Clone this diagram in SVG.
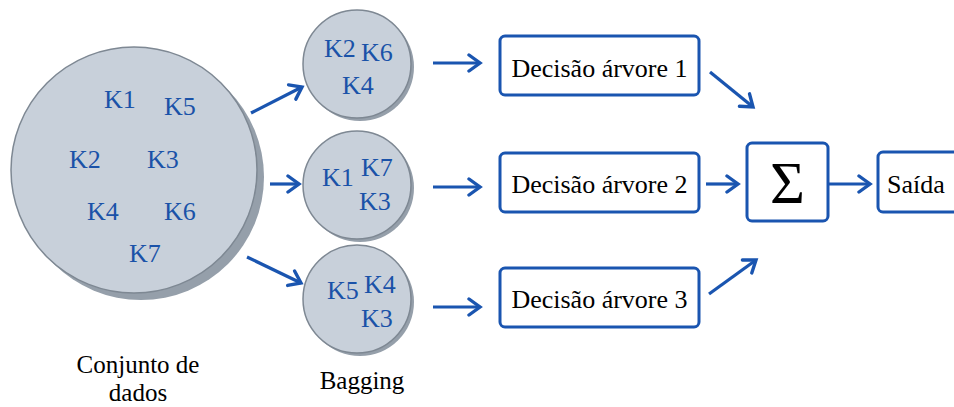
<svg xmlns="http://www.w3.org/2000/svg" width="954" height="407" viewBox="0 0 954 407">
  <style>
    .disk { fill: #c8d0da; stroke: #7e8893; stroke-width: 1.5; }
    .disk-shadow { fill: #959faa; }
    .key { fill: #1a52a8; }
    .box { fill: #ffffff; stroke: #1a55b0; stroke-width: 3; }
    .label { fill: #000000; }
    .edge { stroke: #1a55b0; stroke-width: 3.2; fill: none; marker-end: url(#arrow); }
  </style>
  <defs>
    <marker id="arrow" markerUnits="userSpaceOnUse" markerWidth="20" markerHeight="20" viewBox="-14 -10 16 20" refX="0" refY="0" orient="auto">
      <path d="M-11,-8 L0,0 L-11,8" fill="none" stroke="#1a55b0" stroke-width="3.4" stroke-linecap="round" stroke-linejoin="miter"/>
    </marker>
  </defs>

  <g font-family="'Liberation Serif', 'Times New Roman', serif" font-size="26">
    <!-- full data set -->
    <g id="dataset">
      <circle class="disk-shadow" cx="141" cy="177" r="123"/>
      <circle class="disk" cx="134" cy="170" r="123"/>
      <text class="key" x="104" y="108">K1</text>
      <text class="key" x="164" y="115">K5</text>
      <text class="key" x="69" y="168">K2</text>
      <text class="key" x="147" y="168">K3</text>
      <text class="key" x="87" y="220">K4</text>
      <text class="key" x="164" y="220">K6</text>
      <text class="key" x="129" y="262">K7</text>
    </g>

    <!-- bootstrap samples -->
    <g id="sample1">
      <circle class="disk-shadow" cx="360" cy="67" r="54"/>
      <circle class="disk" cx="357" cy="64" r="54"/>
      <text class="key" x="324" y="57">K2</text>
      <text class="key" x="361" y="61">K6</text>
      <text class="key" x="342" y="94">K4</text>
    </g>
    <g id="sample2">
      <circle class="disk-shadow" cx="360" cy="188" r="54"/>
      <circle class="disk" cx="357" cy="185" r="54"/>
      <text class="key" x="322" y="186">K1</text>
      <text class="key" x="361" y="176">K7</text>
      <text class="key" x="359" y="210">K3</text>
    </g>
    <g id="sample3">
      <circle class="disk-shadow" cx="360" cy="302" r="54"/>
      <circle class="disk" cx="357" cy="299" r="54"/>
      <text class="key" x="327" y="299">K5</text>
      <text class="key" x="364" y="293">K4</text>
      <text class="key" x="361" y="327">K3</text>
    </g>

    <!-- decision trees -->
    <g id="tree1">
      <rect class="box" x="500" y="36" width="199" height="59" rx="5"/>
      <text class="label" x="599.5" y="77" text-anchor="middle">Decisão árvore 1</text>
    </g>
    <g id="tree2">
      <rect class="box" x="500" y="153" width="199" height="59" rx="5"/>
      <text class="label" x="599.5" y="193" text-anchor="middle">Decisão árvore 2</text>
    </g>
    <g id="tree3">
      <rect class="box" x="500" y="268" width="199" height="59" rx="5"/>
      <text class="label" x="599.5" y="308" text-anchor="middle">Decisão árvore 3</text>
    </g>

    <!-- aggregation -->
    <g id="sum">
      <rect class="box" x="747" y="143" width="81" height="78" rx="5"/>
      <text class="label" x="787.5" y="203" text-anchor="middle" font-size="60">Σ</text>
    </g>
    <g id="output">
      <rect class="box" x="878" y="152" width="90" height="60" rx="5"/>
      <text class="label" x="887" y="193">Saída</text>
    </g>

    <!-- captions -->
    <g id="captions" font-size="25">
      <text class="label" x="138" y="373" text-anchor="middle">Conjunto de</text>
      <text class="label" x="138" y="401" text-anchor="middle">dados</text>
      <text class="label" x="362" y="389" text-anchor="middle">Bagging</text>
    </g>
  </g>

  <!-- connectors -->
  <g id="connectors">
    <line class="edge" x1="251" y1="113" x2="302" y2="87"/>
    <line class="edge" x1="270" y1="184" x2="299" y2="184"/>
    <line class="edge" x1="247" y1="257" x2="301" y2="283"/>
    <line class="edge" x1="433" y1="63" x2="480" y2="63"/>
    <line class="edge" x1="433" y1="187" x2="480" y2="187"/>
    <line class="edge" x1="433" y1="307" x2="480" y2="307"/>
    <line class="edge" x1="710" y1="72" x2="753" y2="107"/>
    <line class="edge" x1="706" y1="184" x2="738" y2="184"/>
    <line class="edge" x1="709" y1="294" x2="756" y2="260"/>
    <line class="edge" x1="829" y1="184" x2="870" y2="184"/>
  </g>
</svg>
